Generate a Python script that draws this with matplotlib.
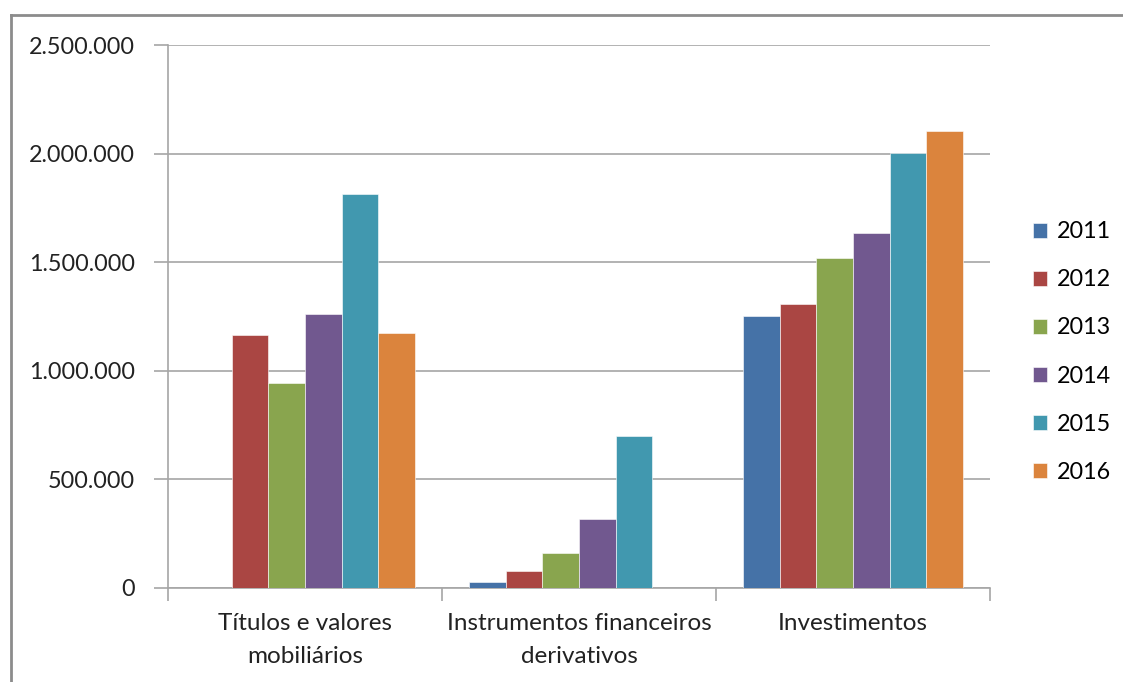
import numpy as np
import matplotlib
matplotlib.use("Agg")
import matplotlib.pyplot as plt
from matplotlib.ticker import FuncFormatter, FixedLocator
from matplotlib.lines import Line2D

# --- Data ---
categories = ["Títulos e valores\nmobiliários",
              "Instrumentos financeiros\nderivativos",
              "Investimentos"]
years = ["2011", "2012", "2013", "2014", "2015", "2016"]
v2011 = [0, 26000, 1252000]
v2012 = [1166000, 80000, 1307000]
v2013 = [942000, 163000, 1521000]
v2014 = [1260000, 316000, 1633000]
v2015 = [1813000, 700000, 2001000]
v2016 = [1173000, 0, 2105000]
series = [v2011, v2012, v2013, v2014, v2015, v2016]
colors = ["#4572A7", "#AA4643", "#89A54E", "#71588F", "#4198AF", "#DB843D"]

plt.rcParams['font.family'] = ['Lato', 'DejaVu Sans']
GRID = "#a6a6a6"

fig = plt.figure(figsize=(11.23, 6.82), dpi=100)
ax = fig.add_axes([168 / 1123, 1 - 588 / 682, 822 / 1123, 543 / 682])

x = np.arange(len(categories))
n = len(series)
width = 0.8 / n
for i, (vals, col, yr) in enumerate(zip(series, colors, years)):
    offs = (i - (n - 1) / 2) * width
    ax.bar(x + offs, vals, width, color=col, label=yr,
           edgecolor="white", linewidth=0.4, zorder=3)

ax.set_xlim(-0.5, len(categories) - 0.5)
ax.set_ylim(0, 2500000)
ax.set_yticks(np.arange(0, 2500001, 500000))
ax.yaxis.set_major_formatter(FuncFormatter(lambda v, p: f"{int(v):,}".replace(",", ".")))
ax.yaxis.grid(True, color=GRID, linewidth=1.2, zorder=0)
ax.tick_params(axis='y', length=10, width=1.2, color=GRID, pad=14,
               labelsize=16.8, labelcolor="#222222")

# category labels at centers, tick marks at boundaries
ax.set_xticks(x)
ax.set_xticklabels(categories, fontsize=17.5, color="#222222", linespacing=1.7)
ax.tick_params(axis='x', which='major', length=0, pad=18)
ax.xaxis.set_minor_locator(FixedLocator(np.arange(-0.5, len(categories), 1.0)))
ax.tick_params(axis='x', which='minor', length=9, width=1.2, color=GRID)

for s in ['top', 'right']:
    ax.spines[s].set_visible(False)
for s in ['left', 'bottom']:
    ax.spines[s].set_color(GRID)
    ax.spines[s].set_linewidth(1.2)

leg = ax.legend(loc='center left', bbox_to_anchor=(1033 / 1123, 1 - 352 / 682),
                bbox_transform=fig.transFigure, frameon=False, fontsize=16.8,
                handlelength=0.62, handleheight=0.62, handletextpad=0.4,
                labelspacing=1.16, borderaxespad=0, borderpad=0)

# outer chart border (only left and top visible in the reference)
fig.add_artist(Line2D([11 / 1123, 11 / 1123], [0, 1 - 15 / 682],
                      transform=fig.transFigure, color="#8c8c8c", linewidth=2))
fig.add_artist(Line2D([11 / 1123, 1], [1 - 15 / 682, 1 - 15 / 682],
                      transform=fig.transFigure, color="#8c8c8c", linewidth=2))

fig.savefig("out.png", dpi=100)
